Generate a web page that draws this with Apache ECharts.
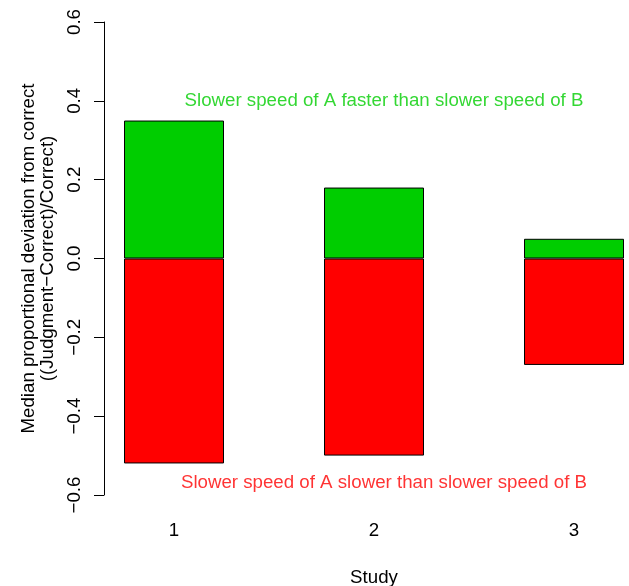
<!DOCTYPE html>
<html>
<head>
<meta charset="utf-8">
<script src="https://cdn.jsdelivr.net/npm/echarts@6/dist/echarts.min.js"></script>
<style>
html,body{margin:0;padding:0;background:#fff;}
#chart{width:629px;height:586px;}
</style>
</head>
<body>
<div id="chart"></div>
<script>
var studies = [1, 2, 3];
var fasterValues = [0.35, 0.18, 0.05];
var slowerValues = [-0.52, -0.50, -0.27];
var yTicks = [-0.6, -0.4, -0.2, 0.0, 0.2, 0.4, 0.6];
var annotations = [
  {text: 'Slower speed of A faster than slower speed of B', x: 2.05, y: 0.40, color: '#00CD00'},
  {text: 'Slower speed of A slower than slower speed of B', x: 2.05, y: -0.57, color: '#FF0000'}
];

var FONT = 'Liberation Sans, Arial, sans-serif';
var FS = 18.7;

var chart = echarts.init(document.getElementById('chart'), null, {renderer: 'canvas'});

function pairs(xs, ys) { return xs.map(function (x, i) { return [x, ys[i]]; }); }

chart.setOption({
  backgroundColor: '#ffffff',
  animation: false,
  grid: {left: 104, right: -15, top: 22, bottom: 91, containLabel: false, outerBoundsMode: 'none'},
  xAxis: {
    type: 'value',
    min: 0.65,
    max: 3.35,
    name: 'Study',
    nameLocation: 'middle',
    nameGap: 73,
    nameTextStyle: {fontFamily: FONT, fontSize: FS, color: '#000'},
    axisLine: {show: false},
    axisTick: {show: false},
    splitLine: {show: false},
    axisLabel: {
      customValues: studies,
      margin: 26,
      fontFamily: FONT, fontSize: FS, color: '#000',
      formatter: function (v) { return String(v); }
    }
  },
  yAxis: {
    type: 'value',
    min: yTicks[0],
    max: yTicks[yTicks.length - 1],
    interval: 0.2,
    name: 'Median proportional deviation from correct\n((Judgment\u2212Correct)/Correct)',
    nameLocation: 'middle',
    nameRotate: 90,
    nameGap: 38,
    nameTextStyle: {fontFamily: FONT, fontSize: FS, color: '#000', lineHeight: 19, align: 'center'},
    axisLine: {show: true, lineStyle: {color: '#000', width: 1}},
    axisTick: {show: true, length: 10, lineStyle: {color: '#000', width: 1}},
    splitLine: {show: false},
    axisLabel: {
      rotate: 90,
      margin: 20,
      fontFamily: FONT, fontSize: FS, color: '#000',
      formatter: function (v) { return v.toFixed(1).replace('-', '\u2212'); }
    }
  },
  series: [
    {
      name: 'faster',
      type: 'bar',
      data: pairs(studies, fasterValues),
      barWidth: 100,
      barGap: '-100%',
      itemStyle: {color: '#00CD00', borderColor: '#000', borderWidth: 1}
    },
    {
      name: 'slower',
      type: 'bar',
      data: pairs(studies, slowerValues),
      barWidth: 100,
      barGap: '-100%',
      itemStyle: {color: '#FF0000', borderColor: '#000', borderWidth: 1}
    },
    {
      name: 'annotations',
      type: 'scatter',
      symbolSize: 0,
      silent: true,
      data: annotations.map(function (a) {
        return {
          value: [a.x, a.y],
          label: {show: true, position: 'inside', formatter: a.text, color: a.color,
                  fontFamily: FONT, fontSize: FS}
        };
      })
    }
  ]
});
</script>
</body>
</html>
